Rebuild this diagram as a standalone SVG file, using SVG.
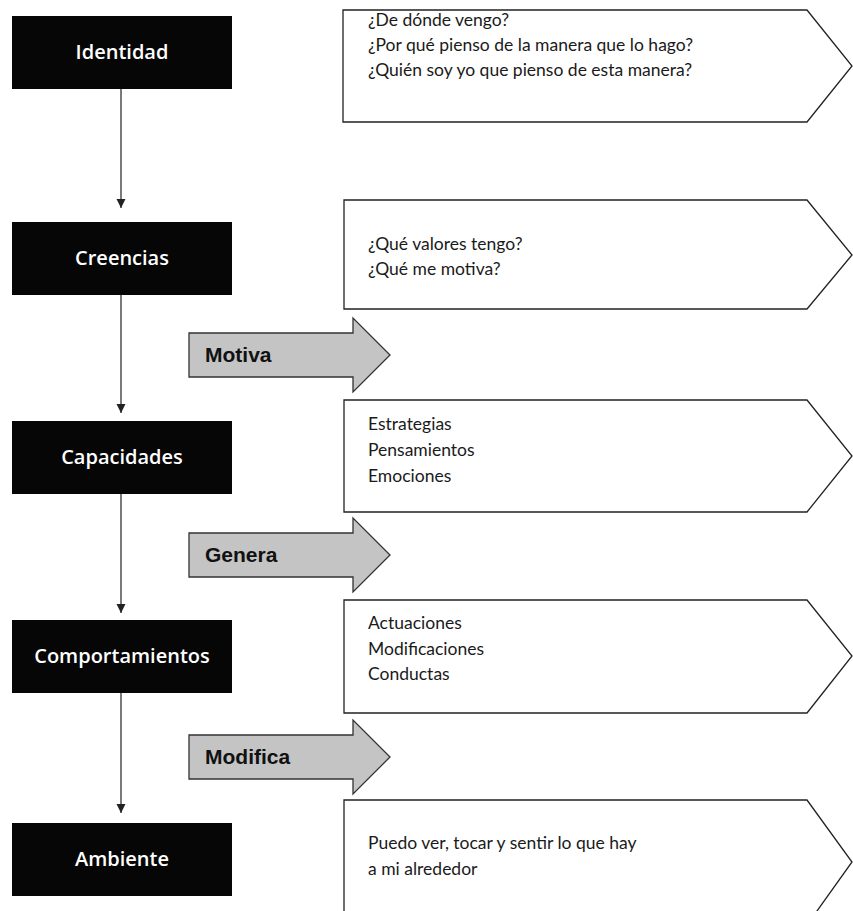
<svg xmlns="http://www.w3.org/2000/svg" width="853" height="911" viewBox="0 0 853 911">
<style>
.blk{fill:#060606}
.lbl{font-family:"Open Sans","Noto Sans",sans-serif;font-weight:600;font-size:20px;fill:#ffffff;text-anchor:middle}
.box{fill:#ffffff;stroke:#222;stroke-width:1.3}
.txt{font-family:Lato,"Open Sans",sans-serif;font-size:17.5px;fill:#1a1a1a}
.garr{fill:#c4c4c4;stroke:#333;stroke-width:1.3}
.glbl{font-family:"Liberation Sans",Arial,sans-serif;font-weight:bold;font-size:21px;fill:#111}
.con{stroke:#222;stroke-width:1.2;fill:none}
</style>
<defs>
<marker id="ah" markerUnits="userSpaceOnUse" markerWidth="10" markerHeight="10" refX="9" refY="4.5" orient="auto">
<path d="M0,0 L9,4.5 L0,9 z" fill="#222"/>
</marker>
</defs>
<rect width="853" height="911" fill="#ffffff"/>
<g id="connectors">
<line class="con" x1="121" y1="89" x2="121" y2="208" marker-end="url(#ah)"/>
<line class="con" x1="121" y1="295" x2="121" y2="413" marker-end="url(#ah)"/>
<line class="con" x1="121" y1="494" x2="121" y2="613" marker-end="url(#ah)"/>
<line class="con" x1="121" y1="693" x2="121" y2="813" marker-end="url(#ah)"/>
</g>
<g id="identidad"><rect class="blk" x="12" y="16" width="220" height="73"/><text class="lbl" x="122" y="59">Identidad</text></g>
<g id="creencias"><rect class="blk" x="12" y="222" width="220" height="73"/><text class="lbl" x="122" y="265">Creencias</text></g>
<g id="capacidades"><rect class="blk" x="12" y="421" width="220" height="73"/><text class="lbl" x="122" y="464">Capacidades</text></g>
<g id="comportamientos"><rect class="blk" x="12" y="620" width="220" height="73"/><text class="lbl" x="122" y="663">Comportamientos</text></g>
<g id="ambiente"><rect class="blk" x="12" y="823" width="220" height="73"/><text class="lbl" x="122" y="866">Ambiente</text></g>
<g id="desc-identidad"><path class="box" d="M343,10 H807 L852,66 L807,122 H343 Z"/>
<text class="txt" x="368" y="26">¿De dónde vengo?</text>
<text class="txt" x="368" y="51">¿Por qué pienso de la manera que lo hago?</text>
<text class="txt" x="368" y="76">¿Quién soy yo que pienso de esta manera?</text></g>
<g id="desc-creencias"><path class="box" d="M344,200 H807 L852,255 L807,309 H344 Z"/>
<text class="txt" x="368" y="250">¿Qué valores tengo?</text>
<text class="txt" x="368" y="275">¿Qué me motiva?</text></g>
<g id="desc-capacidades"><path class="box" d="M344,400 H807 L852,456 L807,512 H344 Z"/>
<text class="txt" x="368" y="430">Estrategias</text>
<text class="txt" x="368" y="456">Pensamientos</text>
<text class="txt" x="368" y="482">Emociones</text></g>
<g id="desc-comportamientos"><path class="box" d="M344,600 H807 L852,656 L807,713 H344 Z"/>
<text class="txt" x="368" y="629">Actuaciones</text>
<text class="txt" x="368" y="655">Modificaciones</text>
<text class="txt" x="368" y="680">Conductas</text></g>
<g id="desc-ambiente"><path class="box" d="M344,800 H807 L852,862 L807,925 H344 Z"/>
<text class="txt" x="368" y="849">Puedo ver, tocar y sentir lo que hay</text>
<text class="txt" x="368" y="875">a mi alrededor</text></g>
<g id="motiva"><path class="garr" d="M189,333 H353 V318 L390,355 L353,392 V377 H189 Z"/><text class="glbl" x="205" y="362">Motiva</text></g>
<g id="genera"><path class="garr" d="M189,533 H353 V518 L390,555 L353,592 V577 H189 Z"/><text class="glbl" x="205" y="562">Genera</text></g>
<g id="modifica"><path class="garr" d="M189,735 H353 V720 L390,757 L353,794 V779 H189 Z"/><text class="glbl" x="205" y="764">Modifica</text></g>
</svg>
